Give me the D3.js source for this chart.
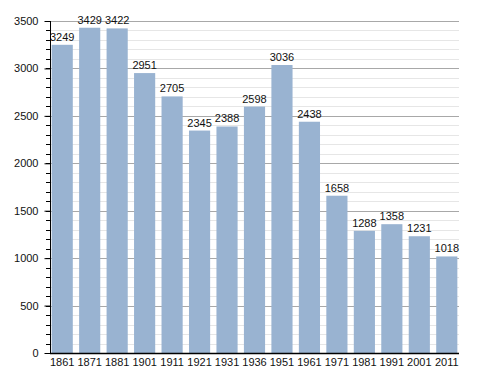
<!DOCTYPE html>
<html>
<head>
<meta charset="utf-8">
<script src="https://cdn.jsdelivr.net/npm/d3@7"></script>
<style>
  body { margin: 0; background: #fff; }
  text { font-family: "Liberation Sans", Arial, sans-serif; }
</style>
</head>
<body>
<div id="chart"></div>
<script>
var years = ["1861", "1871", "1881", "1901", "1911", "1921", "1931", "1936", "1951", "1961", "1971", "1981", "1991", "2001", "2011"];
var population = [3249, 3429, 3422, 2951, 2705, 2345, 2388, 2598, 3036, 2438, 1658, 1288, 1358, 1231, 1018];
var yTicks = [0, 500, 1000, 1500, 2000, 2500, 3000, 3500];

var width = 488;
var height = 373;
var margin = {left: 50, top: 21, right: 29, bottom: 20};

var svg = d3.select("#chart")
            .append("svg")
            .attr("width", width)
            .attr("height", height);

var x = d3.scaleBand()
          .domain(years)
          .range([margin.left, width - margin.right])
          .paddingInner(0.23)
          .paddingOuter(0.06);

var y = d3.scaleLinear()
          .domain([0, 3500])
          .range([height - margin.bottom, margin.top]);

// minor grid every 100
svg.append("g")
   .selectAll("line")
   .data(d3.range(100, 3501, 100).filter(function(d) { return d % 500 != 0; }))
   .enter()
   .append("line")
   .attr("x1", margin.left)
   .attr("x2", width - margin.right)
   .attr("y1", function(d) { return Math.round(y(d)) + 0.5; })
   .attr("y2", function(d) { return Math.round(y(d)) + 0.5; })
   .attr("stroke", "#e6e6e6");

// major grid
svg.append("g")
   .selectAll("line")
   .data(yTicks.slice(1))
   .enter()
   .append("line")
   .attr("x1", margin.left)
   .attr("x2", width - margin.right)
   .attr("y1", function(d) { return Math.round(y(d)) + 0.5; })
   .attr("y2", function(d) { return Math.round(y(d)) + 0.5; })
   .attr("stroke", "#a8a8a8");

svg.append("g")
   .selectAll("rect")
   .data(population)
   .enter()
   .append("rect")
   .attr("x", function(d, i) { return x(years[i]); })
   .attr("y", function(d) { return y(d); })
   .attr("width", x.bandwidth())
   .attr("height", function(d) { return y(0) - y(d); })
   .attr("fill", "#99b3d1");

svg.append("g")
   .selectAll("text")
   .data(population)
   .enter()
   .append("text")
   .attr("x", function(d, i) { return x(years[i]) + x.bandwidth() / 2; })
   .attr("y", function(d) { return y(d) - 4; })
   .attr("text-anchor", "middle")
   .attr("font-size", "11px")
   .attr("fill", "#111")
   .text(function(d) { return d; });

// minor ticks on y axis
svg.append("g")
   .selectAll("line")
   .data(d3.range(0, 3501, 100))
   .enter()
   .append("line")
   .attr("x1", margin.left - 4)
   .attr("x2", margin.left)
   .attr("y1", function(d) { return Math.round(y(d)) + 0.5; })
   .attr("y2", function(d) { return Math.round(y(d)) + 0.5; })
   .attr("stroke", "#000");

var yAxis = d3.axisLeft(y)
              .tickValues(yTicks)
              .tickFormat(d3.format("d"))
              .tickSize(6)
              .tickPadding(6);

var gy = svg.append("g")
   .attr("transform", "translate(" + (margin.left + 0.5) + ",0)")
   .call(yAxis);
gy.select(".domain").attr("d", "M0," + y(3500) + "V" + y(0));
gy.selectAll("text").attr("font-size", "11px").attr("fill", "#111")
  .attr("font-family", "Liberation Sans, Arial, sans-serif");

var xAxis = d3.axisBottom(x)
              .tickSize(0)
              .tickPadding(5);

var gx = svg.append("g")
   .attr("transform", "translate(0," + (Math.round(y(0)) + 0.5) + ")")
   .call(xAxis);
gx.select(".domain").attr("d", "M" + margin.left + ",0H" + (width - margin.right)).attr("stroke-width", 1.5);
gx.selectAll("text").attr("font-size", "11px").attr("fill", "#111")
  .attr("font-family", "Liberation Sans, Arial, sans-serif");
</script>
</body>
</html>
